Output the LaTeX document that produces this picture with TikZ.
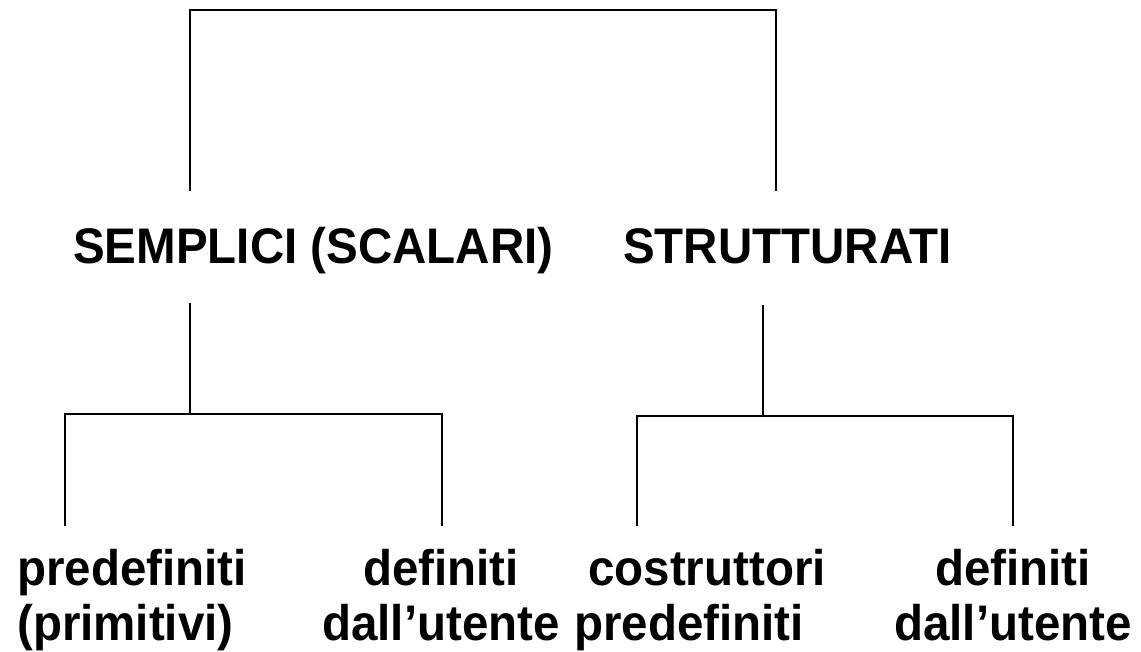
\documentclass[tikz,border=0pt]{standalone}
\usepackage{fontspec}
\setmainfont{Liberation Sans}[FakeStretch=0.95]
\begin{document}
\begin{tikzpicture}[x=1pt,y=-1pt,
  lbl/.style={font=\fontsize{50}{55}\selectfont\bfseries, inner sep=0pt, text=black},
  topline/.style={line width=2pt, line join=miter, draw=black},
  subline/.style={line width=1.4pt, line join=miter, draw=black}]
\useasboundingbox[fill=white] (0,0) rectangle (1141,651);
% labels
\node[lbl, anchor=base west] (semplici) at (73,263) {SEMPLICI (SCALARI)};
\node[lbl, anchor=base west] (strutturati) at (623,263) {STRUTTURATI};
\node[lbl, align=left, anchor=north west] (predef) at (17,549) {predefiniti\\(primitivi)};
\node[lbl, align=center, anchor=north] (defS) at (441,549) {definiti\\dall’utente};
\node[lbl, align=left, anchor=north west] (costr) at (574,549) {\hspace*{14pt}costruttori\\predefiniti};
\node[lbl, align=center, anchor=north] (defT) at (1013,549) {definiti\\dall’utente};
% junction points
\coordinate (rootL) at (190,10);
\coordinate (rootR) at (776,10);
\coordinate (sTop) at (190,191);
\coordinate (tTop) at (776,191);
\coordinate (sBot) at (190,303);
\coordinate (sJoin) at (190,414);
\coordinate (pTop) at (65,414);
\coordinate (pEnd) at (65,526);
\coordinate (dSTop) at (442,414);
\coordinate (dSEnd) at (442,526);
\coordinate (tBot) at (763,305);
\coordinate (tJoin) at (763,416);
\coordinate (cTop) at (637,416);
\coordinate (cEnd) at (637,526);
\coordinate (dTTop) at (1013,416);
\coordinate (dTEnd) at (1013,526);
% connectors
\draw[topline] (sTop) -- (rootL) -- (rootR) -- (tTop);
\draw[subline] (sBot) -- (sJoin);
\draw[subline] (pEnd) -- (pTop) -- (dSTop) -- (dSEnd);
\draw[subline] (tBot) -- (tJoin);
\draw[subline] (cEnd) -- (cTop) -- (dTTop) -- (dTEnd);
\end{tikzpicture}
\end{document}
